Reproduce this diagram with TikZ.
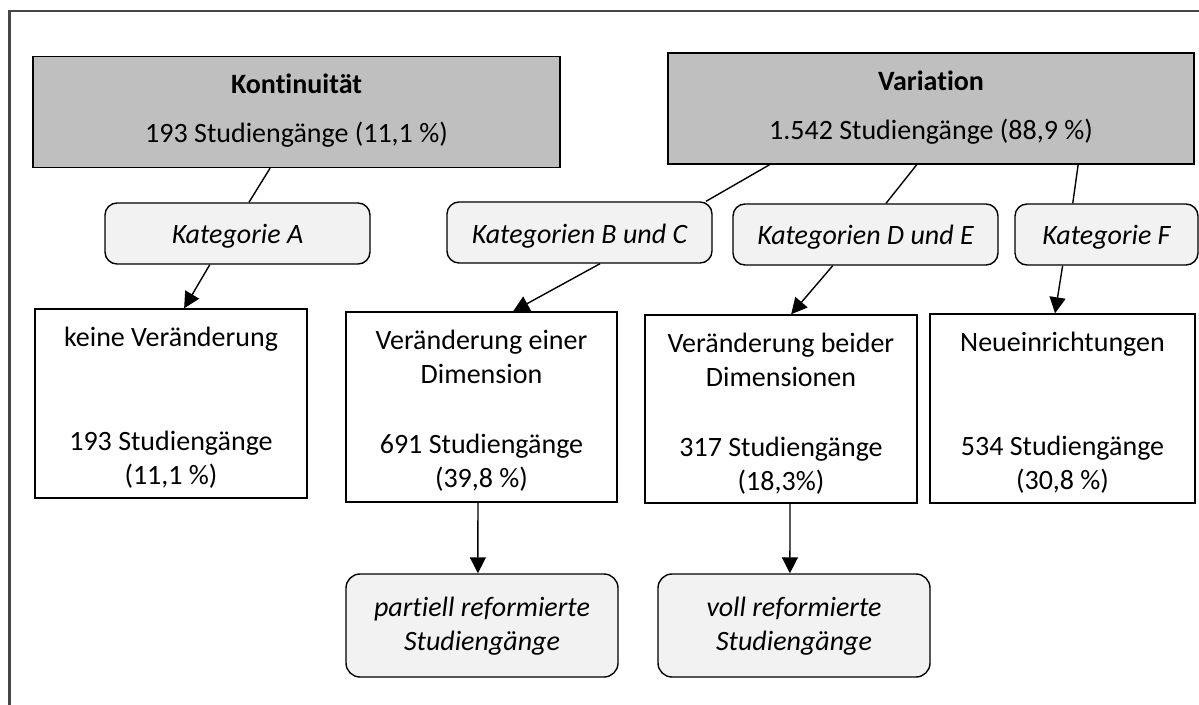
\documentclass[tikz,border=0pt]{standalone}
\usepackage{fontspec}
\setmainfont{Carlito}[Ligatures=NoCommon]
\usetikzlibrary{calc,arrows.meta}
\definecolor{hdrgray}{RGB}{191,191,191}
\definecolor{catgray}{RGB}{242,242,242}
\definecolor{framegray}{RGB}{70,70,70}
\begin{document}
\begin{tikzpicture}[x=1pt,y=-1pt,
  box/.style={draw=black,line width=1.4pt,inner sep=0pt,minimum width=#1},
  hdrbox/.style={box=#1,fill=hdrgray,minimum height=111pt},
  catbox/.style={box=#1,fill=catgray,rounded corners=12pt,minimum height=61pt},
  resbox/.style={box=#1,fill=white},
  endbox/.style={box=#1,fill=catgray,rounded corners=14pt,minimum height=103pt},
  txt/.style={anchor=base,inner sep=0pt,font=\fontsize{28pt}{34pt}\selectfont},
  itxt/.style={txt,font=\fontsize{28pt}{34pt}\selectfont\itshape},
  link/.style={draw=black,line width=1.4pt},
  arr/.style={link,-{Triangle[length=16pt,width=16pt]}},
  frameline/.style={draw=framegray,line width=2.2pt}
]
\useasboundingbox (0,0) rectangle (1199,704);
\draw[frameline] (9.5,710) -- (9.5,11) -- (1205,11);

% header boxes
\node[hdrbox=527pt] (kont) at (296.5,112) {};
\node[txt] (kontA) at (296.5,93) {\bfseries Kontinuität};
\node[txt] (kontB) at (296.5,142) {193 Studiengänge (11,1 \%)};

\node[hdrbox=526pt] (var) at (931,108.5) {};
\node[txt] (varA) at (931,90) {\bfseries Variation};
\node[txt] (varB) at (931,139) {1.542 Studiengänge (88,9 \%)};

% category boxes
\node[catbox=265pt] (katA) at (237.5,233.5) {};
\node[itxt] (katAt) at (237.5,243) {Kategorie A};
\node[catbox=265pt] (katBC) at (579.5,232.5) {};
\node[itxt] (katBCt) at (579.5,243) {Kategorien B und C};
\node[catbox=265pt] (katDE) at (865.5,234.5) {};
\node[itxt] (katDEt) at (865.5,244) {Kategorien D und E};
\node[catbox=183pt] (katF) at (1106.5,234.5) {};
\node[itxt] (katFt) at (1106.5,244) {Kategorie F};

% result boxes
\node[resbox=272pt,minimum height=189pt] (keine) at (171,403.5) {};
\node[txt] (keineA) at (171,346) {keine Veränderung};
\node[txt] (keineB) at (171,450) {193 Studiengänge};
\node[txt] (keineC) at (171,484) {(11,1 \%)};

\node[resbox=271pt,minimum height=190pt] (einer) at (481.5,407) {};
\node[txt] (einerA) at (481.5,349) {Veränderung einer};
\node[txt] (einerB) at (481.5,383) {Dimension};
\node[txt] (einerC) at (481.5,453) {691 Studiengänge};
\node[txt] (einerD) at (481.5,487) {(39,8 \%)};

\node[resbox=272pt,minimum height=188pt] (beider) at (781,409) {};
\node[txt] (beiderA) at (781,352) {Veränderung beider};
\node[txt] (beiderB) at (781,386) {Dimensionen};
\node[txt] (beiderC) at (781,456) {317 Studiengänge};
\node[txt] (beiderD) at (781,490) {(18,3\%)};

\node[resbox=265pt,minimum height=189pt] (neu) at (1062.5,408.5) {};
\node[txt] (neuA) at (1062.5,351) {Neueinrichtungen};
\node[txt] (neuB) at (1062.5,455) {534 Studiengänge};
\node[txt] (neuC) at (1062.5,489) {(30,8 \%)};

% end boxes
\node[endbox=272pt] (partiell) at (482,625.5) {};
\node[itxt] (partiellA) at (482,616) {partiell reformierte};
\node[itxt] (partiellB) at (482,650) {Studiengänge};

\node[endbox=272pt] (voll) at (794,625.5) {};
\node[itxt] (vollA) at (794,616) {voll reformierte};
\node[itxt] (vollB) at (794,650) {Studiengänge};

% connectors
\draw[link] ($(kont.south west)!0.45!(kont.south east)$) -- ($(katA.north west)!0.543!(katA.north east)$);
\draw[arr] ($(katA.south west)!0.396!(katA.south east)$) -- ($(keine.north west)!0.548!(keine.north east)$);

\draw[link] ($(var.south west)!0.194!(var.south east)$) -- ($(katBC.north west)!0.975!(katBC.north east)$);
\draw[arr] ($(katBC.south west)!0.577!(katBC.south east)$) -- ($(einer.north west)!0.616!(einer.north east)$);

\draw[link] ($(var.south west)!0.473!(var.south east)$) -- ($(katDE.north west)!0.577!(katDE.north east)$);
\draw[arr] ($(katDE.south west)!0.377!(katDE.south east)$) -- ($(beider.north west)!0.537!(beider.north east)$);

\draw[link] ($(var.south west)!0.779!(var.south east)$) -- ($(katF.north west)!0.317!(katF.north east)$);
\draw[arr] ($(katF.south west)!0.262!(katF.south east)$) -- ($(neu.north west)!0.472!(neu.north east)$);

\draw[arr] ($(einer.south west)!0.487!(einer.south east)$) -- ($(partiell.north west)!0.485!(partiell.north east)$);
\draw[arr] ($(beider.south west)!0.533!(beider.south east)$) -- ($(voll.north west)!0.485!(voll.north east)$);
\end{tikzpicture}
\end{document}
